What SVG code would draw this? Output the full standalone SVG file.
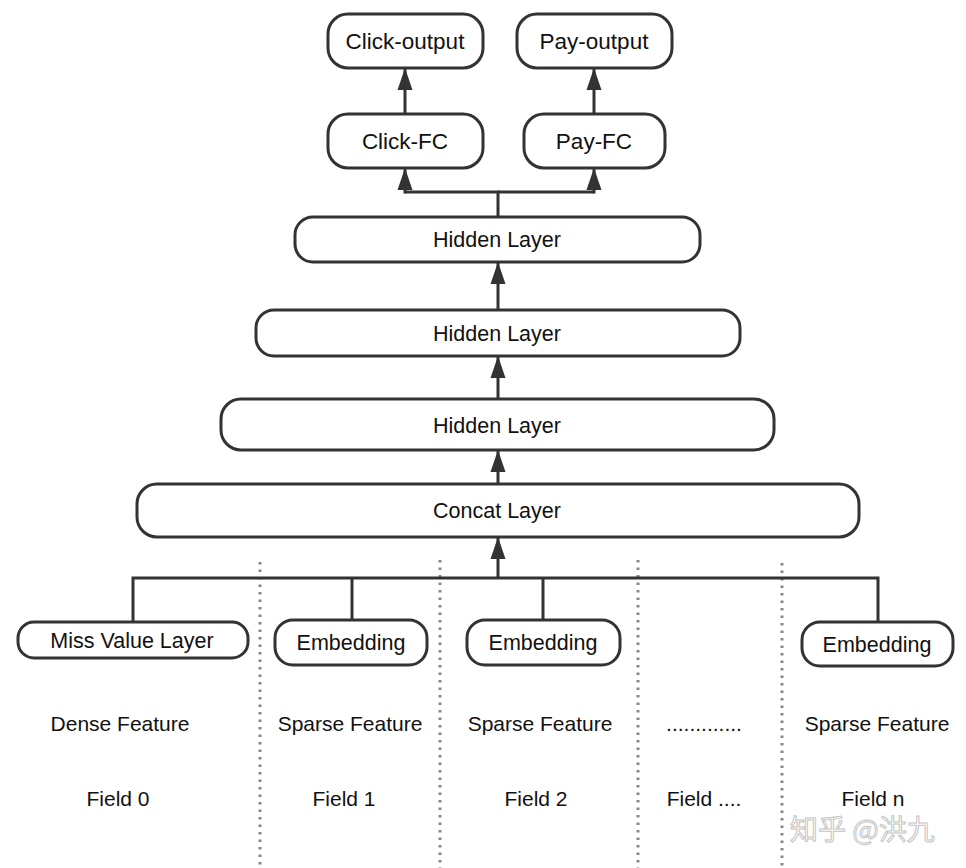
<svg xmlns="http://www.w3.org/2000/svg" width="966" height="868" viewBox="0 0 966 868">
<style>
.n{fill:#fff;stroke:#333;stroke-width:3}
.t{font-family:"Liberation Sans",Arial,sans-serif;font-size:21.5px;fill:#111;text-anchor:middle}
.tl{font-size:22.5px}
.b{font-family:"Liberation Sans",Arial,sans-serif;font-size:21px;fill:#111;text-anchor:middle}
.c{fill:none;stroke:#333;stroke-width:3}
.d{fill:none;stroke:#888;stroke-width:3;stroke-dasharray:2.5 5}
</style>
<defs>
<marker id="ah" markerUnits="userSpaceOnUse" markerWidth="22" markerHeight="16" refX="22" refY="8" orient="auto" viewBox="0 0 22 16">
<path d="M0,0.5 L22,8 L0,15.5 Z" fill="#333"/>
</marker>
</defs>
<rect width="966" height="868" fill="#fff"/>
<g id="dividers">
<line class="d" x1="260" y1="562" x2="260" y2="868"/>
<line class="d" x1="440" y1="560" x2="440" y2="868"/>
<line class="d" x1="638" y1="560" x2="638" y2="868"/>
<line class="d" x1="782" y1="563" x2="782" y2="868"/>
</g>
<g id="connectors">
<line class="c" x1="405" y1="113" x2="405" y2="68" marker-end="url(#ah)"/>
<line class="c" x1="594" y1="113" x2="594" y2="68" marker-end="url(#ah)"/>
<polyline class="c" points="498,217 498,192 405,192"/>
<line class="c" x1="405" y1="193.5" x2="405" y2="168" marker-end="url(#ah)"/>
<polyline class="c" points="498,192 594,192"/>
<line class="c" x1="594" y1="193.5" x2="594" y2="168" marker-end="url(#ah)"/>
<line class="c" x1="498" y1="309" x2="498" y2="262" marker-end="url(#ah)"/>
<line class="c" x1="498" y1="398" x2="498" y2="356" marker-end="url(#ah)"/>
<line class="c" x1="498" y1="483" x2="498" y2="450" marker-end="url(#ah)"/>
<line class="c" x1="498" y1="578" x2="498" y2="537" marker-end="url(#ah)"/>
<polyline class="c" points="133,622 133,578 878,578 878,622"/>
<line class="c" x1="352" y1="578" x2="352" y2="620"/>
<line class="c" x1="543" y1="578" x2="543" y2="620"/>
</g>
<g id="click-output"><rect class="n" x="328" y="14" width="155" height="54" rx="20"/><text class="t tl" x="405" y="49">Click-output</text></g>
<g id="pay-output"><rect class="n" x="517" y="14" width="155" height="54" rx="20"/><text class="t tl" x="594" y="49">Pay-output</text></g>
<g id="click-fc"><rect class="n" x="328" y="114" width="155" height="54" rx="20"/><text class="t tl" x="405" y="149">Click-FC</text></g>
<g id="pay-fc"><rect class="n" x="524" y="114" width="141" height="54" rx="20"/><text class="t tl" x="594" y="149">Pay-FC</text></g>
<g id="hidden1"><rect class="n" x="295" y="217" width="405" height="45" rx="18"/><text class="t" x="497" y="247">Hidden Layer</text></g>
<g id="hidden2"><rect class="n" x="256" y="310" width="484" height="46" rx="18"/><text class="t" x="497" y="341">Hidden Layer</text></g>
<g id="hidden3"><rect class="n" x="221" y="399" width="553" height="51" rx="20"/><text class="t" x="497" y="433">Hidden Layer</text></g>
<g id="concat"><rect class="n" x="137" y="484" width="722" height="53" rx="20"/><text class="t" x="497" y="518">Concat Layer</text></g>
<g id="miss-value"><rect class="n" x="18" y="622" width="230" height="36" rx="16"/><text class="t" x="132" y="648">Miss Value Layer</text></g>
<g id="embedding1"><rect class="n" x="275" y="620" width="152" height="45" rx="18"/><text class="t" x="351" y="650">Embedding</text></g>
<g id="embedding2"><rect class="n" x="467" y="620" width="153" height="45" rx="18"/><text class="t" x="543" y="650">Embedding</text></g>
<g id="embeddingn"><rect class="n" x="802" y="622" width="151" height="44" rx="18"/><text class="t" x="877" y="652">Embedding</text></g>
<g id="labels">
<text class="b" x="120" y="731">Dense Feature</text>
<text class="b" x="350" y="731">Sparse Feature</text>
<text class="b" x="540" y="731">Sparse Feature</text>
<text class="b" x="704" y="731">.............</text>
<text class="b" x="877" y="731">Sparse Feature</text>
<text class="b" x="118" y="806">Field 0</text>
<text class="b" x="344" y="806">Field 1</text>
<text class="b" x="536" y="806">Field 2</text>
<text class="b" x="704" y="806">Field ....</text>
<text class="b" x="873" y="806">Field n</text>
</g>
<g id="watermark"><text x="790" y="840" font-family="'Noto Sans CJK SC',sans-serif" font-size="28" fill="#fff" stroke="#c4c4c4" stroke-width="1">知乎 @洪九</text></g>
</svg>
